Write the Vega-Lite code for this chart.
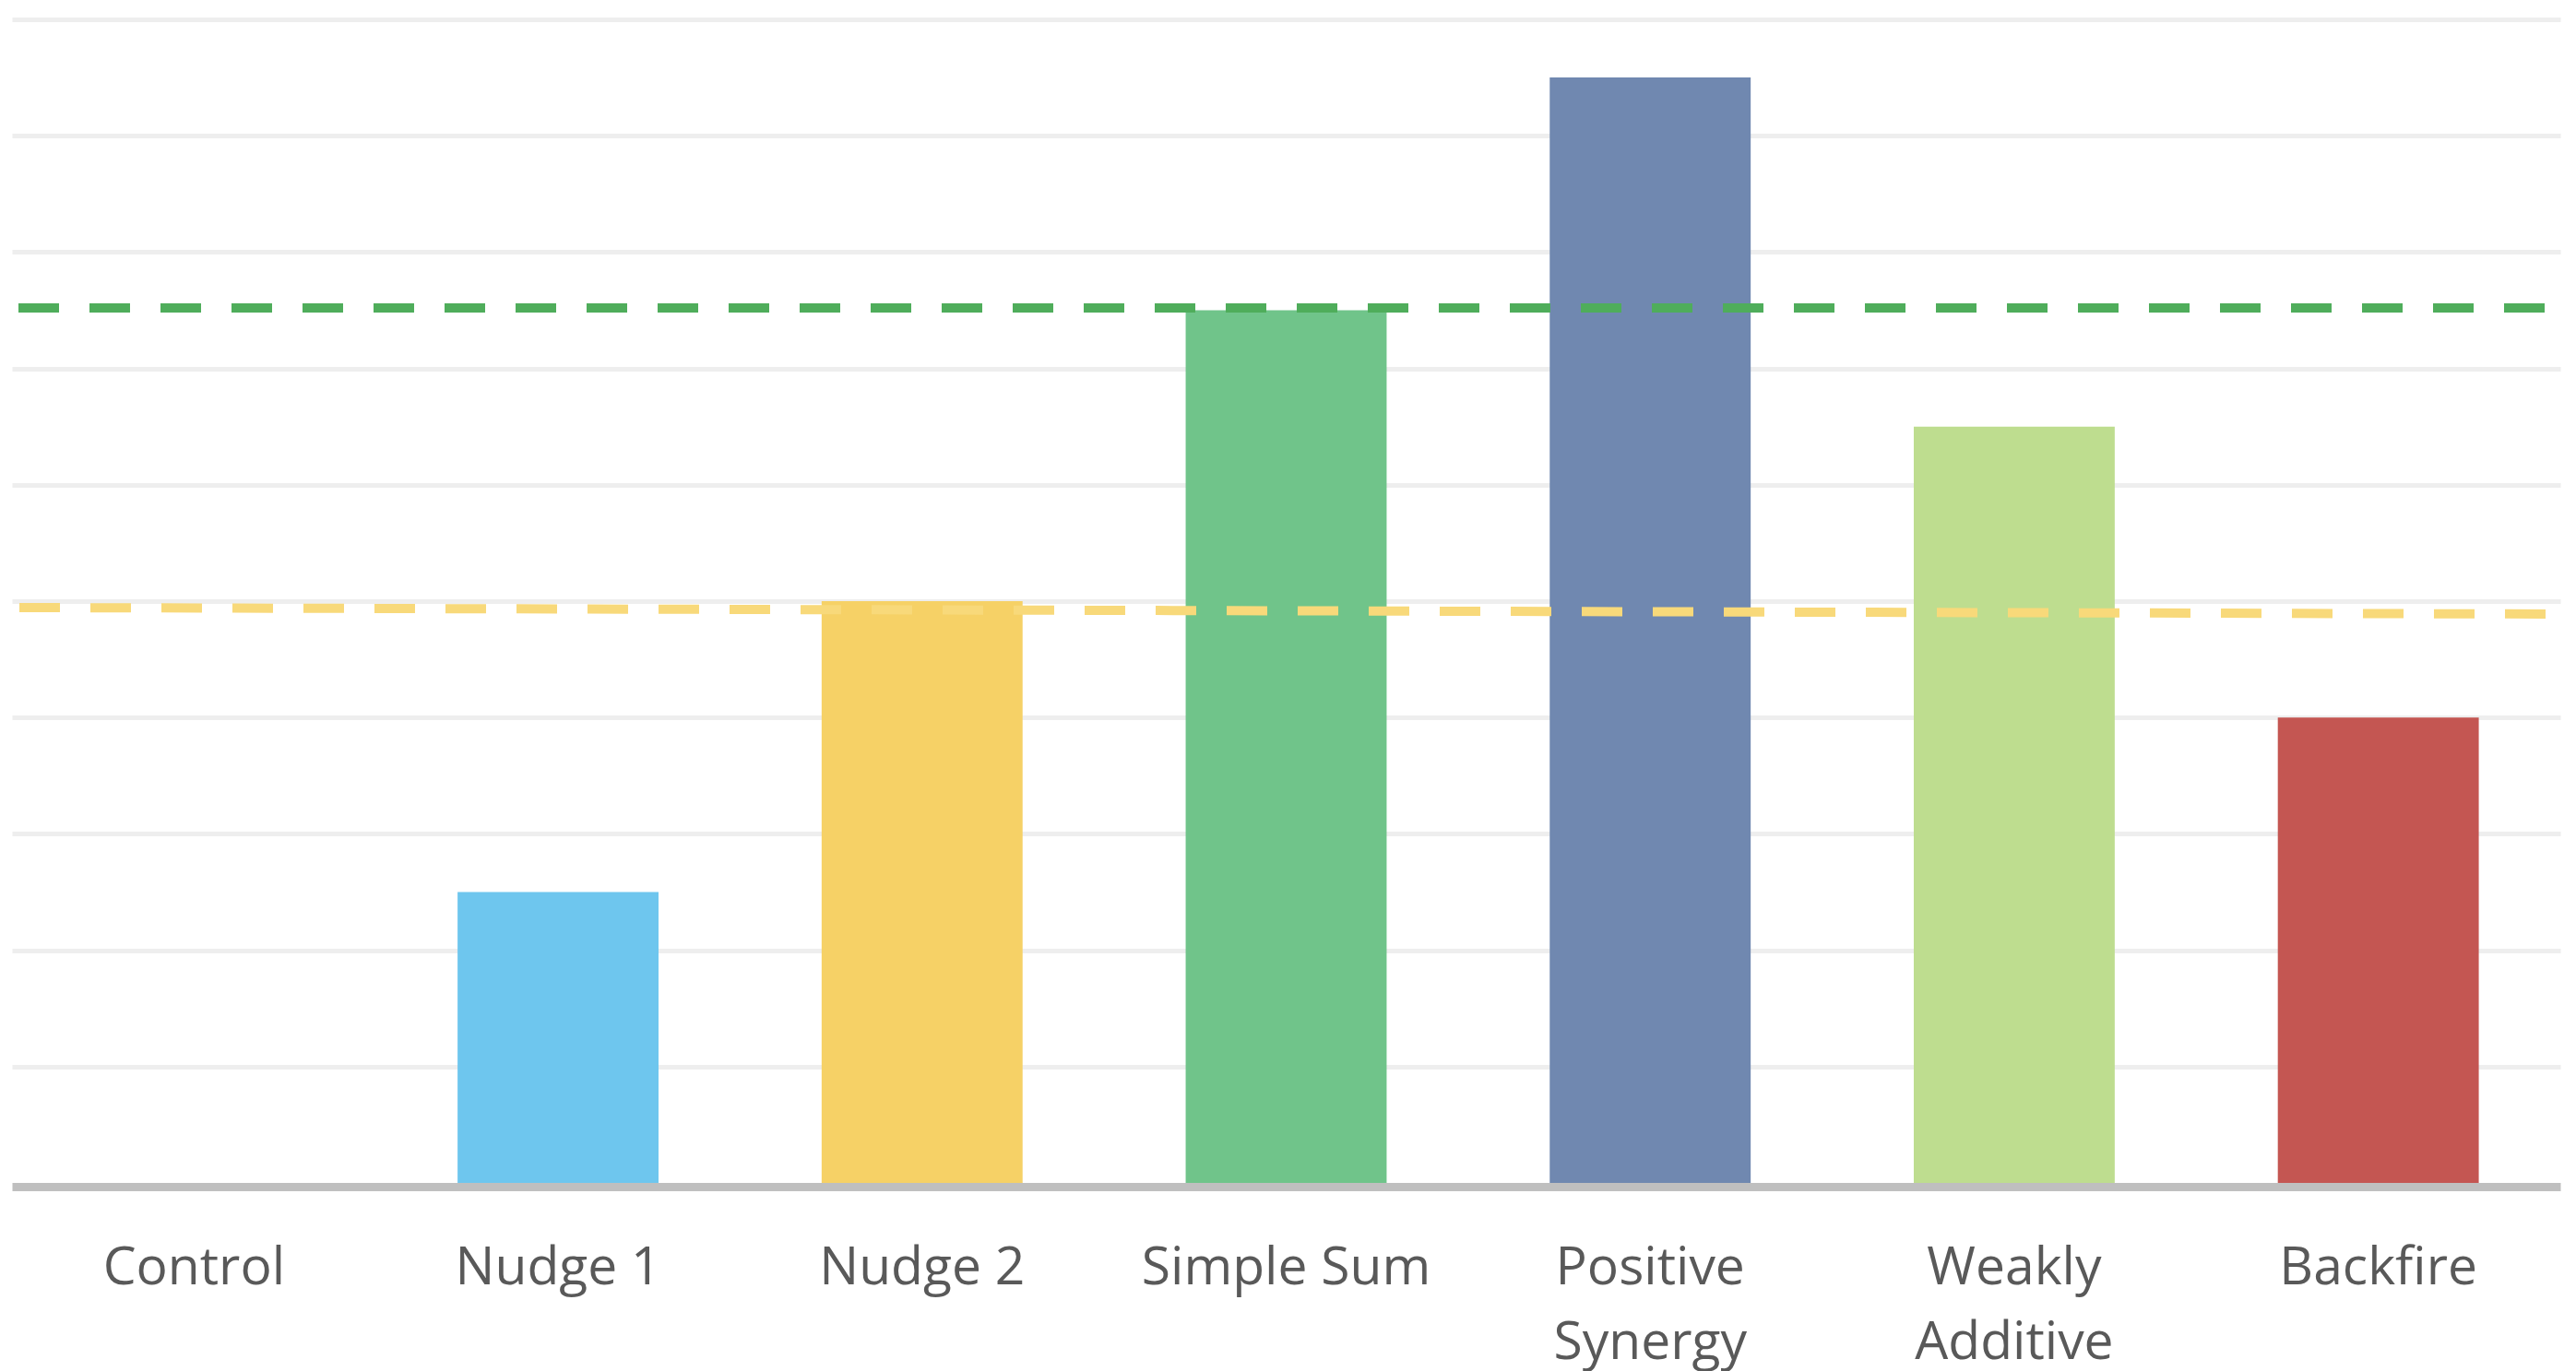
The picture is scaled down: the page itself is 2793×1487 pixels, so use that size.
{
  "$schema": "https://vega.github.io/schema/vega-lite/v6.json",
  "autosize": {"type": "none"},
  "width": 2763,
  "height": 1262,
  "padding": {"left": 13, "top": 21, "right": 17, "bottom": 204},
  "background": "white",
  "config": {"view": {"stroke": null}},
  "datasets": {
    "bars": [
      {"group": "Control", "value": 0},
      {"group": "Nudge 1", "value": 2.5},
      {"group": "Nudge 2", "value": 5.0},
      {"group": "Simple Sum", "value": 7.5},
      {"group": "Positive Synergy", "value": 9.5},
      {"group": "Weakly Additive", "value": 6.5},
      {"group": "Backfire", "value": 4.0}
    ],
    "yellowLine": [
      {"t": 0, "v": 4.945},
      {"t": 1, "v": 4.889}
    ]
  },
  "layer": [
    {
      "data": {"name": "bars"},
      "mark": {"type": "bar"},
      "encoding": {
        "x": {
          "field": "group",
          "type": "nominal",
          "sort": null,
          "scale": {"paddingInner": 0.448, "paddingOuter": 0.224},
          "axis": {
            "title": null,
            "labelAngle": 0,
            "ticks": false,
            "offset": 4,
            "domainColor": "#bfbfbf",
            "domainWidth": 9,
            "labelFont": "Open Sans",
            "labelFontSize": 57,
            "labelColor": "#595959",
            "labelPadding": 60,
            "labelLineHeight": 81,
            "labelBaseline": "top",
            "labelLimit": 0,
            "labelOverlap": false,
            "labelExpr": "datum.value == 'Positive Synergy' ? ['Positive', 'Synergy'] : datum.value == 'Weakly Additive' ? ['Weakly', 'Additive'] : datum.value"
          }
        },
        "y": {
          "field": "value",
          "type": "quantitative",
          "scale": {"domain": [0, 10], "nice": false},
          "axis": {
            "title": null,
            "labels": false,
            "ticks": false,
            "domain": false,
            "grid": true,
            "gridColor": "#eeeeee",
            "gridWidth": 5,
            "values": [1, 2, 3, 4, 5, 6, 7, 8, 9, 10]
          }
        },
        "color": {
          "field": "group",
          "type": "nominal",
          "legend": null,
          "scale": {
            "domain": ["Control", "Nudge 1", "Nudge 2", "Simple Sum", "Positive Synergy", "Weakly Additive", "Backfire"],
            "range": ["#ffffff", "#6ec6ee", "#f6d166", "#70c48a", "#7088b0", "#bedd8f", "#c45652"]
          }
        }
      }
    },
    {
      "data": {"name": "yellowLine"},
      "mark": {"type": "line", "color": "#f8d97a", "strokeWidth": 10, "strokeDash": [44, 33], "strokeDashOffset": 69},
      "encoding": {
        "x": {"field": "t", "type": "quantitative", "scale": {"domain": [0, 1], "nice": false, "zero": false}, "axis": null},
        "y": {"field": "v", "type": "quantitative"}
      }
    },
    {
      "data": {"values": [{}]},
      "mark": {"type": "rule", "color": "#4fad5b", "strokeWidth": 10, "strokeDash": [44, 33], "strokeDashOffset": 60},
      "encoding": {"y": {"datum": 7.52}}
    }
  ],
  "resolve": {"scale": {"x": "independent"}}
}
